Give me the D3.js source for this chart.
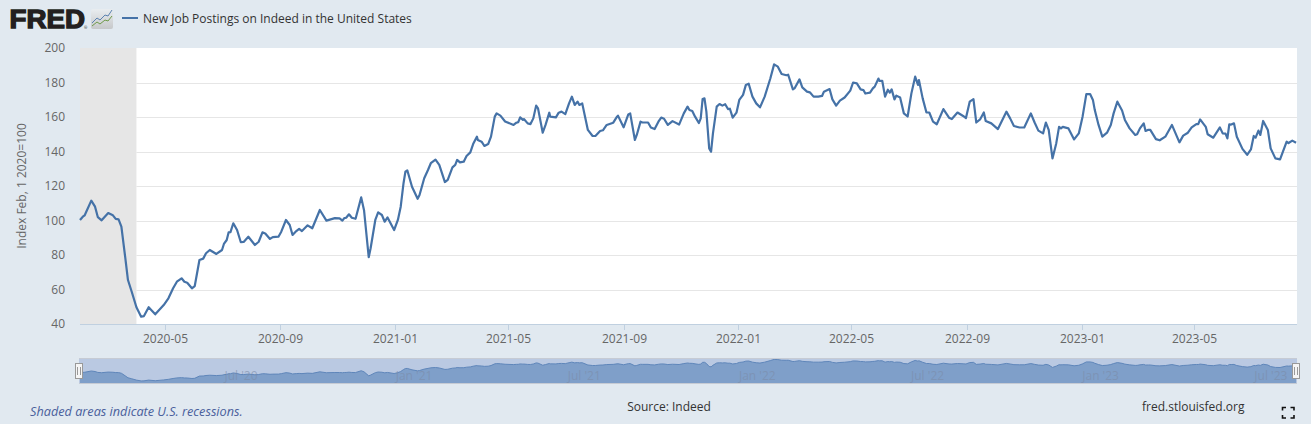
<!DOCTYPE html>
<html><head><meta charset="utf-8">
<script src="https://cdn.jsdelivr.net/npm/d3@7"></script>
<style>
html,body{margin:0;padding:0;background:#e1e9f0;overflow:hidden}
svg{display:block}
text{font-family:"Open Sans",sans-serif}
</style></head><body>
<svg id="c" width="1311" height="424"></svg>
<script>
const seriesName = "New Job Postings on Indeed in the United States";
const yTitle = "Index Feb, 1 2020=100";
const startDate = new Date(2020, 1, 1);
const domainDays = 1294;
const yTicks = [40,60,80,100,120,140,160,180,200];
const xTickDates = ["2020-05","2020-09","2021-01","2021-05","2021-09","2022-01","2022-05","2022-09","2023-01","2023-05"];
const navTicks = [["Jul '20",2020,6],["Jan '21",2021,0],["Jul '21",2021,6],["Jan '22",2022,0],["Jul '22",2022,6],["Jan '23",2023,0],["Jul '23",2023,6]];
const recession = [new Date(2020,1,1), new Date(2020,3,1)];
const dayOffsets = [0,3,5,12,16,19,23,30,35,38,41,44,48,51,55,60,65,68,73,80,89,94,99,103,108,111,114,119,122,127,131,134,138,145,151,153,156,158,160,163,167,171,174,179,186,190,194,197,202,205,211,214,219,223,226,230,233,236,242,247,255,262,271,276,279,281,283,286,289,293,299,302,307,309,314,317,321,324,327,334,338,341,344,346,348,353,359,361,366,370,373,378,382,388,391,396,399,401,404,408,411,415,418,422,423,427,430,434,437,441,443,447,452,461,464,466,468,471,472,476,479,482,485,487,492,495,499,500,506,509,512,516,520,523,526,529,531,534,537,540,545,548,553,556,560,567,571,572,578,583,585,590,592,596,598,604,607,611,615,618,621,625,630,637,642,646,648,651,654,658,660,662,664,666,669,671,673,677,680,683,686,689,691,694,698,701,705,708,711,715,719,723,728,734,738,742,746,751,753,758,760,765,768,773,776,780,785,789,791,797,800,804,808,813,819,822,826,830,833,835,840,843,845,849,850,853,856,859,861,863,866,868,872,876,880,884,888,891,892,896,900,903,907,911,918,924,927,933,939,942,946,950,953,957,961,963,969,976,985,989,993,999,1004,1011,1015,1019,1024,1027,1030,1034,1038,1041,1043,1045,1051,1057,1062,1066,1070,1074,1077,1079,1083,1087,1092,1096,1099,1103,1108,1111,1116,1122,1124,1127,1131,1133,1136,1138,1144,1148,1154,1161,1169,1173,1178,1182,1187,1189,1191,1197,1199,1205,1212,1215,1218,1220,1222,1224,1227,1230,1236,1241,1245,1248,1250,1253,1255,1258,1263,1266,1271,1276,1283,1285,1289,1293];
const indexValues = [100.3,102.2,103,111.5,108,101.9,100.1,104.3,103,100.9,100.7,96.4,79,65.5,58.7,49.7,44.2,44.6,49.7,45.6,51,54.9,60.7,64.5,66.5,64.5,63.9,60.7,62,77.1,77.9,81,82.9,80.6,82.9,86.4,88.7,93.1,93.3,98.4,94.5,87.4,87.6,90.6,85.8,87.7,93.1,92.5,89.3,90.4,90.6,93.5,100.3,97.4,91.6,93.9,95.2,93.9,97.2,95.5,106.1,99.9,101.4,101.2,99.9,101.4,101.6,103.6,101.6,101,113.4,106,78.7,83.9,100.3,104.7,103.2,99.3,101.8,94.5,100.3,108,121.6,128.3,129.1,119.6,112.6,114.8,124.5,129.3,133.2,135.3,132.2,122.3,123.5,130.8,132.2,135.1,133.7,134.1,137.4,139.5,144.3,148.6,146.7,145.7,143.2,144.3,148.6,160.2,162.1,160.8,157.4,155.4,156.7,157,159.8,158.3,158.8,156.3,155.9,159.2,166.6,165,150.9,155.4,162.5,160.2,159.8,162.5,163.1,161.7,167.9,171.8,167,168.9,167,167.9,160.2,152.5,149,149,151.9,152.3,155.4,156.7,160.2,160.8,154,161.5,162.1,146.7,149.6,157.3,156.8,156.8,153.9,153,157.3,159.7,159,155.4,157.6,155.6,162.1,166,164.1,163.5,160.2,156.5,159.2,170.4,170.8,163.1,141.8,139.9,150.5,166,167.5,166.6,167.4,164.6,164.8,159.6,162.5,169.9,172.8,178.6,179.3,171.8,167.9,165.6,171.8,182.3,190.5,189.2,184.9,184.2,184.5,176,176.8,181.8,177.2,174.7,174.3,171.8,171.8,172.2,174.7,176.2,170.2,166.6,169.5,171.3,175.3,180,179.5,176,175.6,173.6,174.1,176.6,177.6,182.3,180.9,181,171.8,175.8,174.1,176,170.2,172.4,171.3,162.1,160.3,173.7,183.4,178.6,181.4,170.8,162.6,162.6,157.3,155.8,164.6,159.6,158.8,162.6,160.6,159.4,168.9,170.4,156.8,158.6,162.6,157.7,156.3,153,163.1,159.2,154.8,153.9,153.9,162.1,156.8,152.1,150.5,156.8,152.5,136,144.7,154.3,153.4,154.3,153.4,147,150.5,160.2,173.3,173.3,169.9,164,155.4,148.6,150.9,155.4,162.1,168.9,163.8,158.3,153.4,149.6,150,153.4,156.3,151.9,152.6,152.5,147.2,146.5,148.6,155.4,145.3,149.2,150.9,154,155.9,155.9,158.6,154.3,150,148,154,150.5,150.4,147.6,155.7,155.6,156.3,148.6,141.5,138.1,141.2,149,148,152.1,149.6,157.7,152.5,141.8,136,135.4,145.7,144.9,146.3,145.1];

const toDate = d => d3.timeDay.offset(startDate, d);
const series = dayOffsets.map((d,i)=>({date:toDate(d), value:indexValues[i]}));
const svg = d3.select("#c");
const lineColor = "#4572a7", gridColor = "#e6e6e6", textColor = "#666";

const x = d3.scaleTime().domain([startDate, toDate(domainDays)]).range([80,1297]);
const y = d3.scaleLinear().domain([40,200]).range([324,48]);

// plot
svg.append("rect").attr("x",80).attr("y",48).attr("width",1217).attr("height",276).attr("fill","#fff");
svg.append("rect").attr("x",x(recession[0])).attr("y",48).attr("width",x(recession[1])-x(recession[0])).attr("height",276).attr("fill","#e6e6e6");

// grid
svg.append("g").selectAll("line").data(yTicks.slice(1,-1)).join("line")
  .attr("x1",x(recession[1])).attr("x2",1297).attr("y1",d=>Math.round(y(d))+.5).attr("y2",d=>Math.round(y(d))+.5)
  .attr("stroke",gridColor);

// y axis labels
svg.append("g").selectAll("text").data(yTicks).join("text")
  .attr("x",65).attr("y",d=>y(d)+4).attr("text-anchor","end").attr("font-size",12).attr("fill",textColor).text(d=>d);
svg.append("text").attr("transform","translate(26,186) rotate(-90)").attr("text-anchor","middle")
  .attr("font-size",12).attr("fill",textColor).text(yTitle);

// x axis
const tickParse = d3.timeParse("%Y-%m");
const xg = svg.append("g");
xg.append("line").attr("x1",80).attr("x2",1297).attr("y1",324.5).attr("y2",324.5).attr("stroke","#c0d0e0");
xTickDates.forEach(t=>{
  const px = Math.round(x(tickParse(t)))+.5;
  xg.append("line").attr("x1",px).attr("x2",px).attr("y1",324).attr("y2",330).attr("stroke","#c0d0e0");
  xg.append("text").attr("x",px).attr("y",343).attr("text-anchor","middle").attr("font-size",12).attr("fill",textColor).text(t);
});

// series
const line = d3.line().x(d=>x(d.date)).y(d=>y(d.value)).curve(d3.curveLinear);
svg.append("path").datum(series).attr("d",line).attr("fill","none").attr("stroke",lineColor).attr("stroke-width",2.2).attr("stroke-linejoin","round");

// navigator
const navY = d3.scaleLinear().domain([30,200]).range([383,358]);
svg.append("rect").attr("x",79).attr("y",358).attr("width",1218).attr("height",25).attr("fill","#bac9e2");
svg.append("path").datum(series)
  .attr("d",d3.area().x(d=>x(d.date)).y0(383).y1(d=>navY(d.value)))
  .attr("fill","#7f9fc9");
svg.append("path").datum(series)
  .attr("d",d3.line().x(d=>x(d.date)).y(d=>navY(d.value)))
  .attr("fill","none").attr("stroke","#5f86ba").attr("stroke-width",1);
svg.append("line").attr("x1",79).attr("x2",1297).attr("y1",358.5).attr("y2",358.5).attr("stroke","#c6cbd4");
svg.append("line").attr("x1",79).attr("x2",1297).attr("y1",383.5).attr("y2",383.5).attr("stroke","#c6cbd4");
svg.append("g").selectAll("text").data(navTicks).join("text")
  .attr("x",d=>x(new Date(d[1],d[2],1))+19).attr("y",380).attr("text-anchor","middle")
  .attr("font-size",12).attr("fill","#7b8ba8").attr("fill-opacity",.6).text(d=>d[0]);
[79,1296].forEach(cx=>{
  const h = svg.append("g");
  h.append("rect").attr("x",cx-3.5).attr("y",363.5).attr("width",7).attr("height",15).attr("fill","#f5f5f5").attr("stroke","#999");
  [-1.5,1.5].forEach(o=>h.append("line").attr("x1",cx+o).attr("x2",cx+o).attr("y1",367).attr("y2",375).attr("stroke","#999"));
});

// logo
svg.append("text").attr("x",9.5).attr("y",27.7).attr("font-weight",700)
  .attr("font-size",26).attr("textLength",75.5).attr("lengthAdjust","spacingAndGlyphs").attr("fill","#231f20")
  .attr("stroke","#231f20").attr("stroke-width",1.3).style("font-family","'Liberation Sans'").text("FRED");
svg.append("text").attr("x",84).attr("y",29).attr("font-size",4).attr("fill","#231f20").text("®");
const defs = svg.append("defs");
const gr = defs.append("linearGradient").attr("id","lg").attr("x1",0).attr("x2",0).attr("y1",0).attr("y2",1);
gr.append("stop").attr("offset","0").attr("stop-color","#e9edf0");
gr.append("stop").attr("offset","1").attr("stop-color","#c6c8ca");
svg.append("rect").attr("x",91).attr("y",9).attr("width",22).attr("height",20).attr("rx",2).attr("fill","url(#lg)");
const iconLine = d3.line();
svg.append("path").attr("d",iconLine([[92,23],[97,18],[100,20],[105,15],[108,16],[112,10]])).attr("fill","none").attr("stroke","#5b82b0").attr("stroke-width",1);
svg.append("path").attr("d",iconLine([[92,26],[97,22],[100,24],[105,20],[108,21],[112,16]])).attr("fill","none").attr("stroke","#6f9a4a").attr("stroke-width",1);

// legend
svg.append("line").attr("x1",122).attr("x2",138).attr("y1",18).attr("y2",18).attr("stroke",lineColor).attr("stroke-width",2);
svg.append("text").attr("x",143).attr("y",23).attr("font-size",12).attr("fill","#333").text(seriesName);

// footer
svg.append("text").attr("x",30).attr("y",416).attr("font-size",12.7).attr("font-style","italic").attr("fill","#4a5f9c").text("Shaded areas indicate U.S. recessions.");
svg.append("text").attr("x",669).attr("y",411).attr("text-anchor","middle").attr("font-size",12).attr("fill","#333").text("Source: Indeed");
svg.append("text").attr("x",1142).attr("y",411).attr("font-size",12).attr("fill","#333").text("fred.stlouisfed.org");

// fullscreen icon
const fs = d3.path();
[[1282.5,407.5,1,1],[1294,407.5,-1,1],[1282.5,418,1,-1],[1294,418,-1,-1]].forEach(([a,b,sx,sy])=>{
  fs.moveTo(a+sx*3.5,b); fs.lineTo(a,b); fs.lineTo(a,b+sy*3);
});
svg.append("path").attr("d",fs.toString()).attr("fill","none").attr("stroke","#111").attr("stroke-width",1.6);
</script>
</body></html>
